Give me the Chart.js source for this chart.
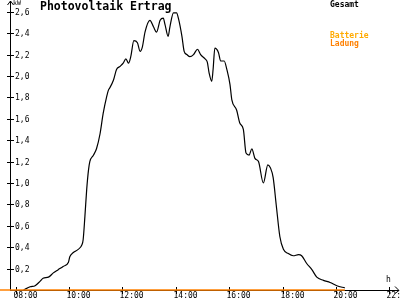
<!DOCTYPE html>
<html>
<head>
<meta charset="utf-8">
<script src="https://cdn.jsdelivr.net/npm/chart.js@4"></script>
<style>
  html, body { margin: 0; padding: 0; background: #fff; }
  #wrap { width: 400px; height: 300px; }
</style>
</head>
<body>
<div id="wrap"><canvas id="pvChart"></canvas></div>
<script>
// Gesamt (kW)
const times = ["08:18","08:33","08:44","08:55","09:02","09:14","09:25","09:36","09:47","09:59",
  "10:02","10:10","10:21","10:29","10:32","10:36","10:40","10:44","10:47","10:55",
  "11:02","11:10","11:17","11:25","11:29","11:32","11:40","11:47","11:55","12:02",
  "12:08","12:14","12:19","12:26","12:34","12:40","12:45","12:51","13:02","13:10",
  "13:17","13:25","13:32","13:36","13:43","13:47","13:55","14:02","14:06","14:14",
  "14:19","14:25","14:32","14:40","14:49","14:56","15:06","15:11","15:15","15:21",
  "15:24","15:28","15:36","15:41","15:49","15:55","16:02","16:06","16:17","16:24",
  "16:32","16:38","16:45","16:51","16:58","17:06","17:17","17:27","17:33","17:39",
  "17:46","17:54","18:02","18:13","18:24","18:36","18:43","18:54","19:06","19:17",
  "19:32","19:47","20:02","20:20"];
const gesamt = [0.00,0.03,0.04,0.08,0.11,0.12,0.16,0.19,0.22,0.26,
  0.31,0.35,0.38,0.42,0.47,0.69,0.94,1.12,1.20,1.26,
  1.32,1.46,1.65,1.81,1.87,1.89,1.96,2.06,2.09,2.12,
  2.16,2.12,2.18,2.33,2.31,2.23,2.27,2.41,2.52,2.46,
  2.41,2.52,2.54,2.48,2.37,2.46,2.59,2.59,2.54,2.37,
  2.23,2.20,2.18,2.20,2.25,2.20,2.16,2.13,2.03,1.95,
  2.06,2.26,2.22,2.14,2.14,2.06,1.92,1.78,1.68,1.56,
  1.50,1.28,1.26,1.32,1.23,1.20,1.00,1.17,1.14,1.05,
  0.79,0.50,0.38,0.34,0.32,0.33,0.32,0.25,0.19,0.12,
  0.09,0.07,0.04,0.02];

// Batterie Ladung (kW)
const ladungTimes = ["07:25","20:20"];
const ladung = [0, 0];

const xTicks = [8, 10, 12, 14, 16, 18, 20, 22];
const yTicks = [0.2, 0.4, 0.6, 0.8, 1.0, 1.2, 1.4, 1.6, 1.8, 2.0, 2.2, 2.4, 2.6];

function toHours(s) {
  const p = s.split(':');
  return Number(p[0]) + Number(p[1]) / 60;
}
function pad(n) { return (n < 10 ? '0' : '') + n; }

const tickFont = '8px "DejaVu Sans Mono"';

// axes, arrows and texts drawn by hand, positions from the chart scales
const axesPlugin = {
  id: 'axesPlugin',
  beforeDatasetsDraw(chart) {
    const ctx = chart.ctx;
    const xs = chart.scales.x, ys = chart.scales.y;
    const x0 = xs.getPixelForValue(xs.min);
    const y0 = ys.getPixelForValue(0);
    ctx.save();
    ctx.strokeStyle = '#000';
    ctx.lineWidth = 1;
    ctx.beginPath();
    ctx.moveTo(x0 + 0.5, y0);
    ctx.lineTo(x0 + 0.5, 1);
    ctx.moveTo(x0 - 2.5, 5);
    ctx.lineTo(x0 + 0.5, 1);
    ctx.lineTo(x0 + 3.5, 5);
    ctx.moveTo(x0, y0 + 0.5);
    ctx.lineTo(399, y0 + 0.5);
    ctx.moveTo(395, y0 - 3.5);
    ctx.lineTo(399, y0 + 0.5);
    ctx.lineTo(395, y0 + 3.5);
    ctx.stroke();

    ctx.fillStyle = '#000';
    ctx.font = tickFont;
    ctx.textBaseline = 'middle';
    ctx.textAlign = 'left';
    yTicks.forEach(v => {
      const y = Math.round(ys.getPixelForValue(v)) + 0.5;
      ctx.beginPath();
      ctx.moveTo(x0 - 3, y);
      ctx.lineTo(x0 + 4, y);
      ctx.stroke();
      ctx.fillText(v.toFixed(1).replace('.', ','), x0 + 5, y);
    });
    ctx.textBaseline = 'top';
    xTicks.forEach(h => {
      const x = Math.round(xs.getPixelForValue(h)) + 0.5;
      ctx.beginPath();
      ctx.moveTo(x, y0 - 3);
      ctx.lineTo(x, y0 + 4);
      ctx.stroke();
      ctx.fillText(pad(h) + ':00', x - 3, y0 + 2);
    });
    ctx.restore();
  },
  afterDraw(chart) {
    const ctx = chart.ctx;
    ctx.save();
    ctx.textAlign = 'left';
    ctx.textBaseline = 'top';
    ctx.fillStyle = '#000';
    ctx.font = 'bold 11.5px "DejaVu Sans Mono"';
    ctx.fillText('Photovoltaik Ertrag', 40, 1);
    ctx.font = '6.5px "DejaVu Sans Mono"';
    ctx.fillText('kW', 13, 0);
    ctx.font = '8px "DejaVu Sans Mono"';
    ctx.fillText('h', 386, 276);
    ctx.font = 'bold 8px "DejaVu Sans Mono"';
    ctx.fillText('Gesamt', 330, 1);
    ctx.fillStyle = '#ffaa00';
    ctx.fillText('Batterie', 330, 32);
    ctx.fillStyle = '#ff8000';
    ctx.fillText('Ladung', 330, 40);
    ctx.restore();
  }
};

new Chart(document.getElementById('pvChart'), {
  type: 'line',
  data: {
    datasets: [
      {
        label: 'Batterie Ladung',
        data: ladungTimes.map((t, i) => ({ x: toHours(t), y: ladung[i] })),
        borderColor: '#ff8000',
        borderWidth: 1.5,
        pointRadius: 0,
        clip: false,
        order: 1
      },
      {
        label: 'Gesamt',
        data: times.map((t, i) => ({ x: toHours(t), y: gesamt[i] })),
        borderColor: '#000',
        borderWidth: 1.2,
        pointRadius: 0,
        cubicInterpolationMode: 'monotone',
        order: 2
      }
    ]
  },
  options: {
    responsive: true,
    maintainAspectRatio: false,
    animation: false,
    events: [],
    layout: { padding: { left: 10, right: 0, top: 0, bottom: 10 } },
    plugins: { legend: { display: false }, tooltip: { enabled: false } },
    scales: {
      x: { type: 'linear', display: false, min: 7.794, max: 22.4 },
      y: { display: false, min: 0, max: 2.71 }
    }
  },
  plugins: [axesPlugin]
});
</script>
</body>
</html>
